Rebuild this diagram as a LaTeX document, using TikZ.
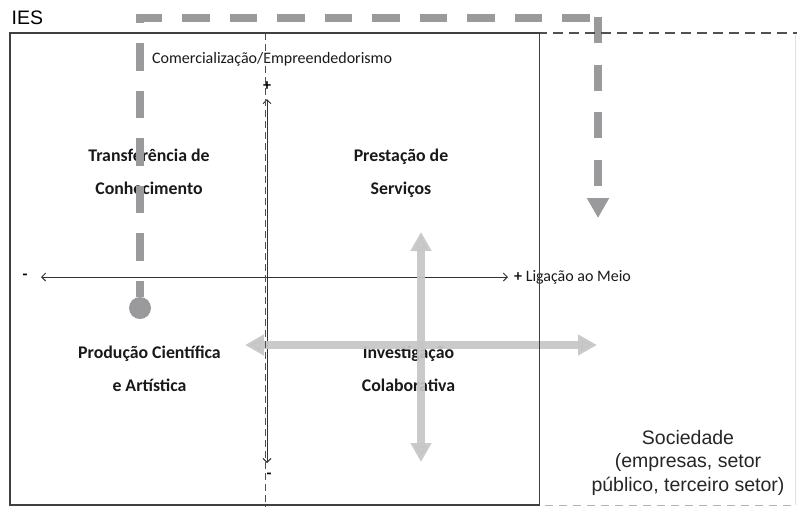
\documentclass[tikz,border=0pt]{standalone}
\usepackage{fontspec}
\setmainfont{Carlito}
\newfontfamily\arialfont{Liberation Sans}
\usetikzlibrary{arrows.meta}
\definecolor{boxline}{HTML}{404040}
\definecolor{dashgray}{HTML}{9A9A9C}
\definecolor{lightarrow}{HTML}{C6C6C6}
\definecolor{socline}{HTML}{505050}
\definecolor{socfaint}{HTML}{B4B4B4}
\begin{document}
\begin{tikzpicture}[x=1pt,y=-1pt,
  quad/.style={font=\bfseries\fontsize{17.8}{33}\selectfont, align=center, inner sep=0pt, anchor=base, text=black!90},
  plainlbl/.style={font=\fontsize{16}{19}\selectfont, inner sep=0pt, text=black!90},
  sign/.style={font=\bfseries\fontsize{16}{19}\selectfont, inner sep=0pt},
  axisline/.style={draw=black!80, line width=0.9pt,
     {Straight Barb[length=4pt,width=8pt]}-{Straight Barb[length=4pt,width=8pt]}},
  bigdash/.style={draw=dashgray, line width=8pt, line join=miter},
  lightarr/.style={draw=lightarrow, line width=8pt,
     {Triangle[length=19pt,width=20pt]}-{Triangle[length=19pt,width=20pt]}},
]
\useasboundingbox (0,0) rectangle (797,507);

% labels (base anchor = baseline of the last line)
\node[quad] (tc) at (149,194) {Transferência de\\Conhecimento};
\node[quad] (ps) at (401,194) {Prestação de\\Serviços};
\node[quad] (pc) at (149.5,391) {Produção Científica\\e Artística};
\node[quad] (ic) at (408.5,391) {Investigação\\Colaborativa};
\node[plainlbl, anchor=base west] (com) at (152,63) {Comercialização/Empreendedorismo};
\node[plainlbl, anchor=base west] (lig) at (514,281) {\textbf{+} Ligação ao Meio};
\node[sign] (hminus) at (25,277) {-};
\node[sign] (vplus) at (267,86) {+};
\node[sign] (vminus) at (269,476) {-};
\node[font=\arialfont\fontsize{19.5}{23}\selectfont, anchor=base west, inner sep=0pt] (ies) at (11.5,24) {IES};
\node[font=\arialfont\fontsize{19.5}{23.5}\selectfont, align=center, inner sep=0pt, anchor=base, text=black!85] (soc) at (688,491) {Sociedade\\(empresas, setor\\público, terceiro setor)};

% axes
\coordinate (hL) at (41,277);
\coordinate (hR) at (508,277);
\coordinate (vT) at (267,99);
\coordinate (vB) at (267,463);
\draw[axisline] (hL) -- (hR);
\draw[axisline] (vT) -- (vB);

% gray dashed flow arrow
\node[circle, fill=dashgray, minimum size=22pt, inner sep=0pt] (src) at (140,308) {};
\coordinate (c1) at (140,18);
\coordinate (c2) at (602,18);
\coordinate (d0) at (598,17);
\coordinate (d1) at (598,218);
\draw[bigdash, dash pattern=on 27.5pt off 20pt, dash phase=11.5pt] (src.north) -- (c1) -- (c2);
\draw[bigdash, line cap=butt, dash pattern=on 26pt off 21.5pt, -{Triangle[length=20pt,width=21pt]}] (d0) -- (d1);

% light gray double arrows
\coordinate (a1) at (421,232);
\coordinate (a2) at (421,462);
\coordinate (b1) at (245,345);
\coordinate (b2) at (597,345);
\draw[lightarr, opacity=0.92] (a1) -- (a2);
\draw[lightarr, opacity=0.92] (b1) -- (b2);

% society dashed box
\draw[draw=socfaint, line width=1pt, dash pattern=on 8pt off 6pt] (265,505) -- (797,505);
\draw[draw=black!12, line width=1pt] (795.5,35) -- (795.5,505);
\draw[draw=socline, line width=1.5pt, dash pattern=on 10pt off 6pt] (265,33) -- (797,33);
\draw[draw=socline, line width=1.5pt, dash pattern=on 7pt off 4pt] (265.5,33) -- (265.5,507);

% IES box
\draw[draw=boxline, line width=1.6pt] (10,33) rectangle (539.5,505);
\end{tikzpicture}
\end{document}
